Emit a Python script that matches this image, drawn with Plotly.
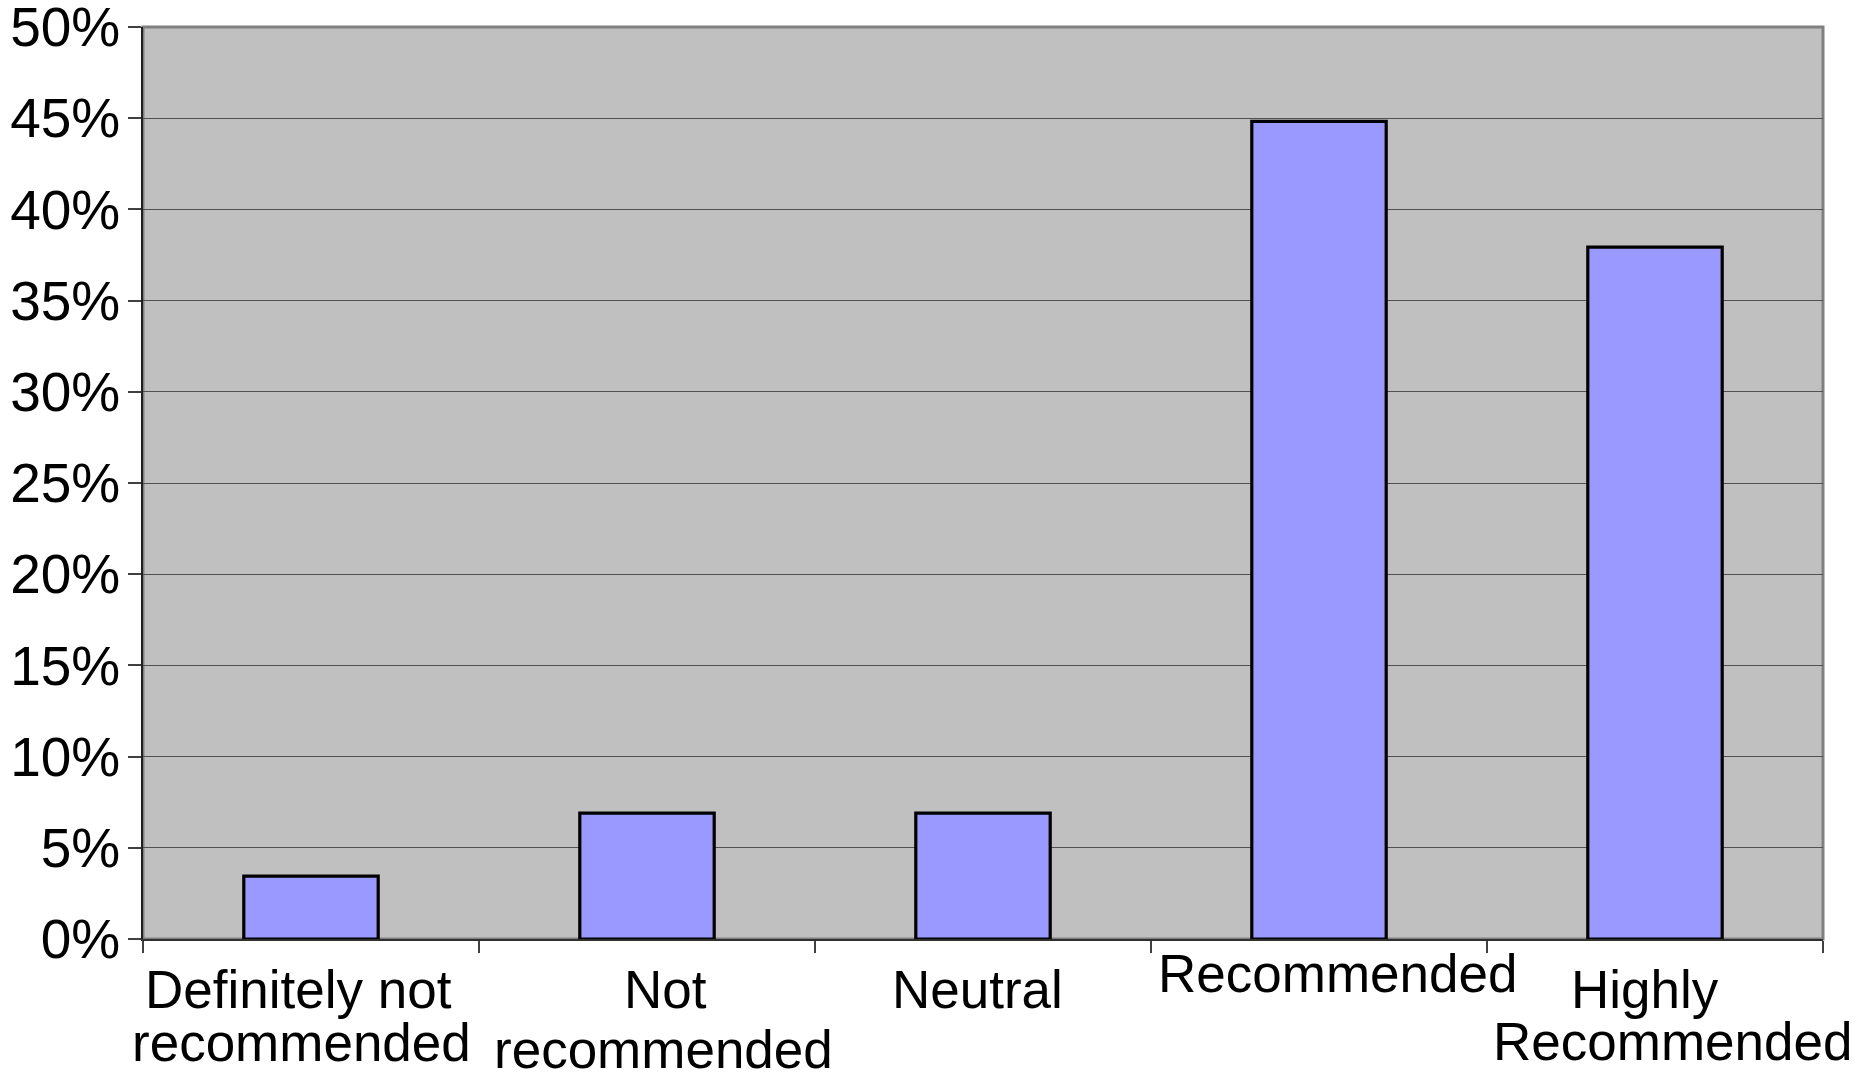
import plotly.graph_objects as go

# Survey results: share of respondents per recommendation level
categories = [
    "Definitely not recommended",
    "Not recommended",
    "Neutral",
    "Recommended",
    "Highly Recommended",
]
shares = [0.0345, 0.069, 0.069, 0.4483, 0.3793]

# Category captions as printed under the axis, one entry per line
caption_lines = [
    ["Definitely not", "recommended"],
    ["Not", "recommended"],
    ["Neutral"],
    ["Recommended"],
    ["Highly", "Recommended"],
]

y_tick_values = [0, 0.05, 0.10, 0.15, 0.20, 0.25, 0.30, 0.35, 0.40, 0.45, 0.50]
y_tick_labels = ["0%", "5%", "10%", "15%", "20%", "25%", "30%", "35%", "40%", "45%", "50%"]

FONT = "Liberation Sans, Arial, sans-serif"

# Pixel offsets (dx, dy) of each caption line relative to its category centre / axis
caption_offsets = [
    [(-13, -50), (-10, -103)],
    [(18, -50), (16, -110)],
    [(-6, -50)],
    [(18, -34)],
    [(-10, -50), (17, -102)],
]

fig = go.Figure(
    go.Bar(
        x=categories,
        y=shares,
        marker=dict(color="#9999FF", line=dict(color="#000000", width=3.2)),
        hoverinfo="skip",
    )
)

# Grey frame around the plotting area (top and right edges)
fig.add_shape(
    type="rect", xref="x domain", yref="y domain",
    x0=0, x1=1, y0=0, y1=1,
    line=dict(color="#808080", width=3), layer="below",
)

for cat, lines, offs in zip(categories, caption_lines, caption_offsets):
    for text, (dx, dy) in zip(lines, offs):
        fig.add_annotation(
            x=cat, xref="x", y=0, yref="paper",
            text=text, showarrow=False,
            xanchor="center", yanchor="middle",
            xshift=dx, yshift=dy,
            font=dict(family=FONT, size=53, color="#000000"),
        )

fig.update_layout(
    width=1875,
    height=1074,
    margin=dict(l=143, r=52, t=27, b=135),
    paper_bgcolor="#FFFFFF",
    plot_bgcolor="#C0C0C0",
    bargap=0.6,
    showlegend=False,
    font=dict(family=FONT, color="#000000"),
)

fig.update_xaxes(
    type="category",
    range=[-0.5, len(categories) - 0.5],
    tickson="boundaries",
    ticks="outside",
    ticklen=12,
    tickwidth=1.5,
    tickcolor="#404040",
    showticklabels=False,
    showline=True,
    linecolor="#303030",
    linewidth=1.5,
    showgrid=False,
    automargin=False,
)

fig.update_yaxes(
    range=[0, 0.5],
    tickvals=y_tick_values,
    ticktext=y_tick_labels,
    ticks="outside",
    ticklen=13,
    tickwidth=1.5,
    tickcolor="#404040",
    ticklabelstandoff=-3,
    ticklabeloverflow="allow",
    showline=True,
    linecolor="#202020",
    linewidth=1.5,
    showgrid=True,
    gridcolor="#505050",
    gridwidth=1.2,
    zeroline=False,
    automargin=False,
    tickfont=dict(family=FONT, size=55, color="#000000"),
)

fig.write_html("out.html")
